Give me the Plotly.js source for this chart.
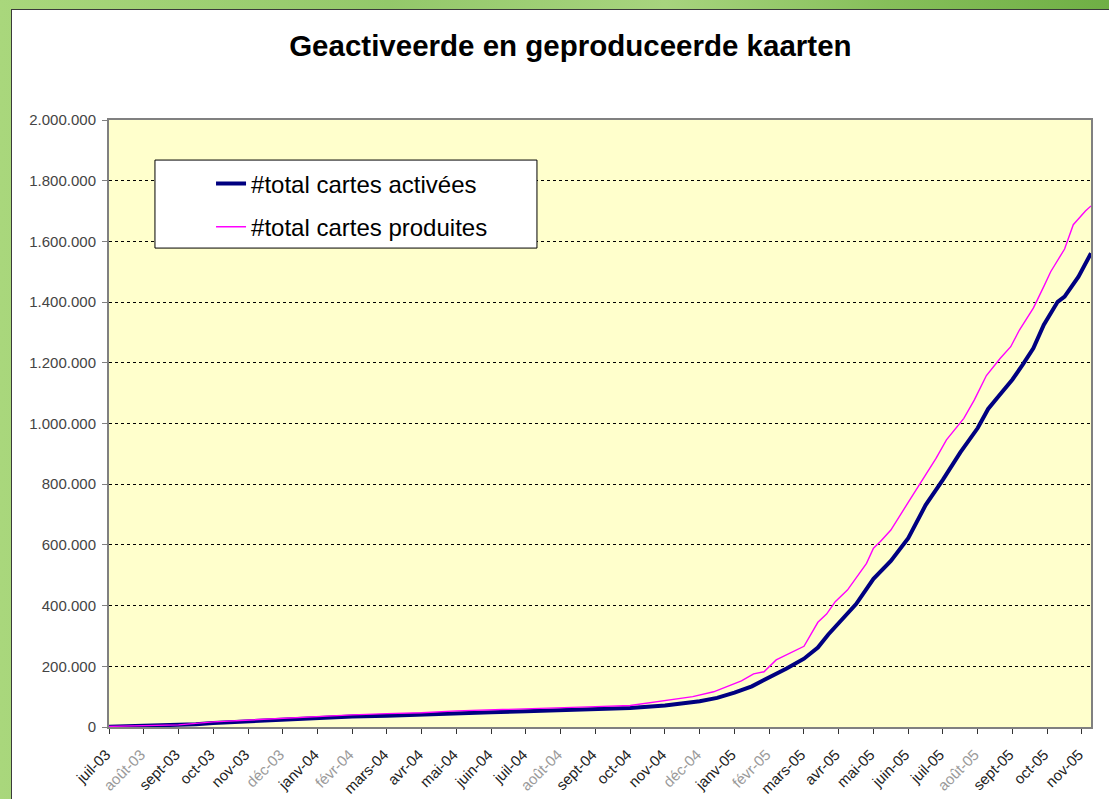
<!DOCTYPE html>
<html><head><meta charset="utf-8">
<script src="https://cdn.plot.ly/plotly-3.0.1.min.js"></script>
<style>
html,body{margin:0;padding:0;width:1109px;height:799px;overflow:hidden;}
body{background:linear-gradient(90deg,#a9d77c 0%,#93c86a 35%,#a7d47e 60%,#86bf5a 80%,#6faf45 100%);}
#frame{position:absolute;left:11px;top:9px;width:1097px;height:790px;border-left:1px solid #3a3a3a;border-top:1px solid #3a3a3a;background:#fff;}
#chart{width:1097px;height:789px;}
</style></head><body>
<div id="frame"><div id="chart"></div></div>
<script>
const monthLabels = ["juil-03","août-03","sept-03","oct-03","nov-03","déc-03","janv-04","févr-04","mars-04","avr-04","mai-04","juin-04","juil-04","août-04","sept-04","oct-04","nov-04","déc-04","janv-05","févr-05","mars-05","avr-05","mai-05","juin-05","juil-05","août-05","sept-05","oct-05","nov-05"];
const greyLabels = ["août-03","déc-03","févr-04","août-04","déc-04","févr-05","août-05"];

const activeesX = [0,1,2,2.5,3,4,5,6,7,8,9,10,11,12,13,14,15,16,16.5,17,17.5,18,18.5,19,19.5,20,20.4,20.7,21,21.5,22,22.5,23,23.5,24,24.5,25,25.3,25.6,26,26.3,26.6,26.9,27.3,27.5,27.9,28.26];
const activeesY = [1000,4000,5000,9000,13000,19000,25000,31000,35000,37000,42000,46000,49000,52000,55000,58000,63000,71000,77000,85000,96000,113000,134000,163000,193000,225000,262000,305000,342000,405000,488000,547000,622000,731000,815000,905000,985000,1048000,1090000,1145000,1195000,1248000,1325000,1401000,1418000,1484000,1561000];

const produitesX = [0,1,2,3,4,5,6,7,8,9,10,11,12,13,14,15,16,16.8,17.4,18.2,18.55,18.85,19.2,19.7,20,20.4,20.65,20.9,21.25,21.8,22,22.2,22.5,23,23.35,23.8,24.1,24.6,24.9,25.25,25.65,25.95,26.2,26.6,26.9,27.1,27.5,27.75,28.1,28.26];
const produitesY = [2000,4000,7000,17000,23000,30000,35000,40000,44000,47000,53000,56000,59000,63000,67000,71000,86000,100000,116000,152000,175000,182000,221000,248000,266000,345000,372000,413000,451000,539000,589000,611000,649000,740000,803000,885000,946000,1017000,1077000,1158000,1215000,1253000,1308000,1380000,1451000,1500000,1575000,1655000,1700000,1717000];

const yTicks = [0,200000,400000,600000,800000,1000000,1200000,1400000,1600000,1800000,2000000];

const FONT = 'Liberation Sans, Arial, sans-serif';
const tickText = monthLabels.map(l => greyLabels.includes(l) ? '<span style="color:#9a9a9a">' + l + '</span>' : l);

const traces = [
  {x: activeesX, y: activeesY, type: 'scatter', mode: 'lines', name: '#total cartes activées',
   line: {color: '#000080', width: 4}, legendgroup: 'a'},
  {x: produitesX, y: produitesY, type: 'scatter', mode: 'lines', name: '#total cartes produites',
   line: {color: '#ff00ff', width: 1.4}, legendgroup: 'p'}
];

const layout = {
  width: 1097, height: 789,
  margin: {l: 97, r: 18, t: 110, b: 72},
  paper_bgcolor: '#ffffff',
  plot_bgcolor: '#ffffcc',
  separators: ',.',
  font: {family: FONT, color: '#000'},
  title: {text: 'Geactiveerde en geproduceerde kaarten', font: {family: FONT, size: 29.5, color: '#000', weight: 'bold'},
          xref: 'container', x: 0.509, xanchor: 'center', yref: 'container', y: 0.955, yanchor: 'middle'},
  xaxis: {
    range: [0, 28.26], tickvals: monthLabels.map((_, i) => i), ticktext: tickText,
    tickangle: -45, ticks: 'outside', ticklen: 5, tickcolor: '#333', tickwidth: 1,
    ticklabelstandoff: 6, ticklabelshift: -3,
    tickfont: {family: FONT, size: 15, color: '#222'},
    showgrid: false, zeroline: false, showline: true, linecolor: '#808080', linewidth: 2, mirror: true
  },
  yaxis: {
    range: [0, 2000000], tickvals: yTicks, tickformat: ',d',
    ticks: 'outside', ticklen: 5, tickcolor: '#808080', tickwidth: 1,
    ticklabelstandoff: 3,
    tickfont: {family: FONT, size: 15, color: '#444'},
    showgrid: true, gridcolor: '#000', gridwidth: 1, griddash: '3px,3px',
    zeroline: false, showline: true, linecolor: '#808080', linewidth: 2, mirror: true
  },
  showlegend: true,
  legend: {x: 0.1039, xanchor: 'left', y: 0.9316, yanchor: 'top', bgcolor: 'rgba(0,0,0,0)', borderwidth: 0,
           font: {family: FONT, size: 24, color: '#000'}, traceorder: 'grouped', tracegroupgap: 9},
  shapes: [{type: 'rect', xref: 'paper', yref: 'paper', x0: 0.0468, x1: 0.4358, y0: 0.789, y1: 0.934,
            fillcolor: '#ffffff', line: {color: '#000', width: 1}, layer: 'above'}]
};

Plotly.newPlot('chart', traces, layout, {displayModeBar: false, staticPlot: true});
</script>
</body></html>
